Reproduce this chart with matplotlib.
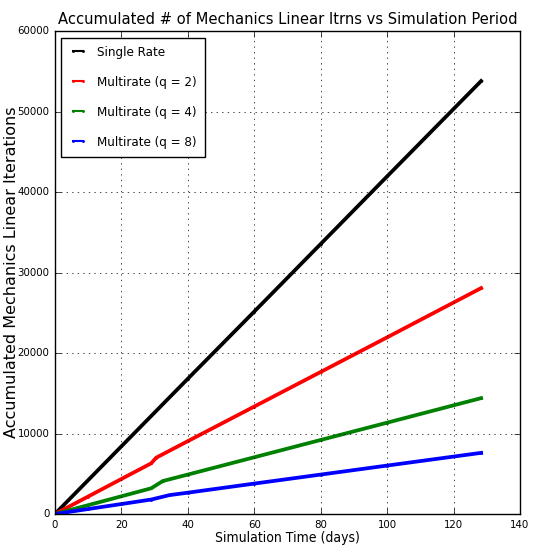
import matplotlib
matplotlib.use('Agg')
import matplotlib.pyplot as plt
from matplotlib.font_manager import FontProperties

plt.style.use('classic')
cond = dict(family='DejaVu Sans', stretch='condensed')

# accumulated linear iterations vs simulation time (days)
t_single = [0, 20, 40, 60, 80, 100, 128.3]
it_single = [0, 8400, 16800, 25150, 33550, 41950, 53800]

t_q2 = [0, 10, 20, 29, 30.5, 40, 60, 80, 100, 128.3]
it_q2 = [0, 2170, 4350, 6300, 7000, 9050, 13350, 17650, 21950, 28070]

t_q4 = [0, 10, 20, 29, 32.5, 40, 60, 80, 100, 128.3]
it_q4 = [0, 1100, 2200, 3200, 4100, 4900, 7050, 9200, 11350, 14400]

t_q8 = [0, 10, 20, 29, 34.5, 40, 60, 80, 100, 128.3]
it_q8 = [0, 620, 1240, 1800, 2350, 2650, 3780, 4900, 6020, 7600]

series = [
    (t_single, it_single, 'k', 'Single Rate'),
    (t_q2, it_q2, 'r', 'Multirate (q = 2)'),
    (t_q4, it_q4, 'g', 'Multirate (q = 4)'),
    (t_q8, it_q8, 'b', 'Multirate (q = 8)'),
]

fig = plt.figure(figsize=(5.38, 5.56), dpi=100, facecolor='white')
ax = fig.add_axes([0.102, 0.0755, 0.8645, 0.8685])

for t, it, c, lab in series:
    ax.plot(t, it, color=c, lw=2.7, marker='.', markersize=3, mec=c, label=lab)

ax.set_xlim(0, 140)
ax.set_ylim(0, 60000)
ax.grid(True)
for lbl in ax.get_xticklabels() + ax.get_yticklabels():
    lbl.set_fontproperties(FontProperties(size=8.2, **cond))

ax.set_title('Accumulated # of Mechanics Linear Itrns vs Simulation Period',
             fontsize=11.8, **cond)
ax.set_xlabel('Simulation Time (days)', fontsize=10, labelpad=1, **cond)
ax.set_ylabel('Accumulated Mechanics Linear Iterations', fontsize=11.5)
ax.yaxis.set_label_coords(-0.078, 0.5)

leg = ax.legend(loc='upper left', handlelength=1.3, handletextpad=0.8,
                labelspacing=1.3, borderpad=0.6, borderaxespad=0.5,
                prop=FontProperties(size=9.5, **cond))
for h in leg.get_lines():
    h.set_linewidth(1.5)

fig.savefig('out.png', dpi=100, facecolor='white')
